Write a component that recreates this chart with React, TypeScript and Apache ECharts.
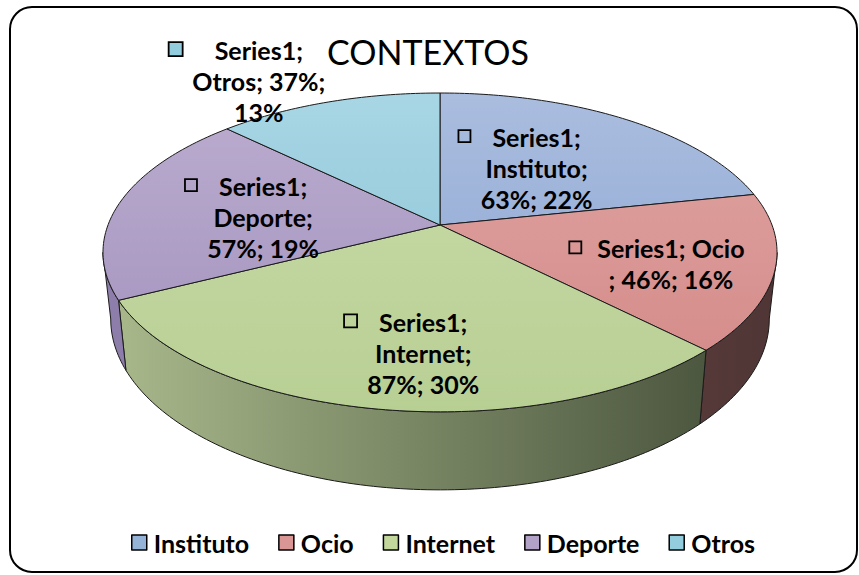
import React, { useEffect, useRef } from "react";
import * as echarts from "echarts";

// ---- data ----
const categories = ["Instituto", "Ocio", "Internet", "Deporte", "Otros"];
const values = [63, 46, 87, 57, 37];
const shares = [22, 16, 30, 19, 13];
const seriesName = "Series1";
const titleText = "CONTEXTOS";

// ---- styles ----
const legendColors = ["#95b3d7", "#d99694", "#c3d69b", "#b3a2c7", "#93cddd"];
const faceLight = ["#aabddf", "#dfa5a3", "#cadca9", "#bbaccf", "#a8d6e4"];
const faceDark = ["#8aa3d0", "#d38886", "#b8cf94", "#a191bd", "#86c0d4"];
const sideLight = ["#7f8fb0", "#8a5d5c", "#aaba8c", "#8e7eab", "#6f9aa8"];
const sideDark = ["#3f4a63", "#4f3535", "#414b36", "#5d5076", "#3d5a63"];
const labelWrap = ["a", "b", "a", "a", "c"];
const labelPlace = [
  [0.5, 38.4],
  [0.709, 109.9],
  [0.725, 183.5],
  [0.54, 275.5],
  [1.284, 329.6],
];
const labelKeyFill = ["none", "none", "none", "none", "#93cddd"];
const labelKeyGap = [22, 16, 22, 22, 32];
const labelKeySize = [12, 12, 13, 12, 14];

// projection of the tilted disc
const CX = 440;
const CY = 225;
const A = 332;
const B = 154.7;
const K = 0.172;
const H = 64.6;
const SXB = 0.977;
const FONT = "Lato";

const total = values.reduce((s, v) => s + v, 0);
const cum: number[] = [0];
values.forEach((v, i) => cum.push(cum[i] + v));

const rad = (d: number) => (d * Math.PI) / 180;

function proj(thetaDeg: number, r: number, bottom: boolean): number[] {
  const t = rad(thetaDeg);
  const u = r * Math.sin(t);
  const v = r * Math.cos(t);
  const d = 1 + K * v;
  const x = CX + (bottom ? SXB : 1) * (A * u) / d;
  const y = CY - (B * v) / d + (bottom ? H / d : 0);
  return [x, y];
}

function arcPts(a: number, b: number, r: number, bottom: boolean): number[][] {
  const pts: number[][] = [];
  const n = Math.max(2, Math.ceil(Math.abs(b - a) / 1));
  for (let i = 0; i <= n; i++) pts.push(proj(a + ((b - a) * i) / n, r, bottom));
  return pts;
}

const visR = (Math.acos(-K) * 180) / Math.PI;
const visL = 360 - visR;

function labelText(i: number): string {
  const name = categories[i];
  const v = values[i];
  const s = shares[i];
  const w = labelWrap[i];
  if (w === "b") return `${seriesName}; ${name}\n; ${v}%; ${s}%`;
  if (w === "c") return `${seriesName};\n${name}; ${v}%;\n${s}%`;
  return `${seriesName};\n${name};\n${v}%; ${s}%`;
}

let measureCtx: CanvasRenderingContext2D | null = null;
function measure(text: string, font: string): number {
  if (!measureCtx) measureCtx = document.createElement("canvas").getContext("2d");
  if (!measureCtx) return text.length * 12;
  measureCtx.font = font;
  return measureCtx.measureText(text).width;
}

export default function App() {
  const ref = useRef<HTMLDivElement>(null);
  useEffect(() => {
    if (!ref.current) return;
    const chart = echarts.init(ref.current, undefined, { renderer: "svg" });

    const faceSeries = {
      type: "custom",
      coordinateSystem: "none",
      silent: true,
      data: values,
      renderItem: (params: any) => {
        const i = params.dataIndex;
        const a = (cum[i] / total) * 360;
        const b = (cum[i + 1] / total) * 360;
        const children: any[] = [];
        const s = Math.max(a, visR);
        const e = Math.min(b, visL);
        if (e > s) {
          const pts = arcPts(s, e, 1, false).concat(arcPts(e, s, 1, true));
          children.push({
            type: "polygon",
            z2: 1,
            shape: { points: pts },
            style: {
              fill: new echarts.graphic.LinearGradient(
                103, 0, 778, 0,
                [
                  { offset: 0, color: sideLight[i] },
                  { offset: 1, color: sideDark[i] },
                ],
                true
              ),
              stroke: "#1a1a1a",
              lineWidth: 1,
            },
          });
        }
        const top = [[CX, CY]].concat(arcPts(a, b, 1, false));
        children.push({
          type: "polygon",
          z2: 2,
          shape: { points: top },
          style: {
            fill: new echarts.graphic.LinearGradient(
              0, 93, 0, 412,
              [
                { offset: 0, color: faceLight[i] },
                { offset: 1, color: faceDark[i] },
              ],
              true
            ),
            stroke: "#1a1a1a",
            lineWidth: 1,
          },
        });
        return { type: "group", children };
      },
    };

    const labelFontSize = 25;
    const labelFont = `bold ${labelFontSize}px ${FONT}`;
    const lineH = 31;
    const labelSeries = {
      type: "custom",
      coordinateSystem: "none",
      silent: true,
      z: 5,
      data: values,
      renderItem: (params: any) => {
        const i = params.dataIndex;
        const [r, th] = labelPlace[i];
        const [ax, ay] = proj(th, r, false);
        const text = labelText(i);
        const lines = text.split("\n");
        const firstY = ay - ((lines.length - 1) * lineH) / 2;
        const w0 = measure(lines[0], labelFont);
        const sq = labelKeySize[i];
        const gap = labelKeyGap[i];
        const sqX = ax - w0 / 2 - gap - sq;
        return {
          type: "group",
          children: [
            {
              type: "text",
              x: ax,
              y: ay,
              style: {
                text,
                fill: "#000",
                fontFamily: FONT,
                fontWeight: "bold",
                fontSize: labelFontSize,
                lineHeight: lineH,
                align: "center",
                verticalAlign: "middle",
              },
            },
            {
              type: "rect",
              shape: { x: sqX, y: firstY - sq / 2 - 1, width: sq, height: sq },
              style: { fill: labelKeyFill[i], stroke: "#000", lineWidth: 1.8 },
            },
          ],
        };
      },
    };

    const legendPie = {
      type: "pie",
      silent: true,
      center: [-200, -200],
      radius: [0, 1],
      label: { show: false },
      labelLine: { show: false },
      data: categories.map((c, i) => ({
        name: c,
        value: values[i],
        itemStyle: { color: legendColors[i] },
      })),
    };

    chart.setOption({
      animation: false,
      backgroundColor: "#ffffff",
      legend: {
        data: categories,
        left: 126,
        top: 525,
        icon: "rect",
        itemWidth: 15,
        itemHeight: 15,
        itemGap: 29,
        selectedMode: false,
        itemStyle: { borderColor: "#000", borderWidth: 1.5 },
        textStyle: {
          fontFamily: FONT,
          fontWeight: "bold",
          fontSize: 25,
          color: "#000",
          padding: [0, 0, 0, 2],
        },
      },
      graphic: [
        {
          type: "rect",
          shape: { x: 10, y: 7, width: 847, height: 565, r: 22 },
          style: { fill: "none", stroke: "#000", lineWidth: 2 },
          silent: true,
        },
        {
          type: "text",
          x: 428,
          y: 51,
          style: {
            text: titleText,
            fill: "#000",
            fontFamily: FONT,
            fontSize: 34,
            align: "center",
            verticalAlign: "middle",
          },
          silent: true,
        },
      ],
      series: [legendPie, faceSeries, labelSeries],
    });
    return () => chart.dispose();
  }, []);
  return (
    <div
      ref={ref}
      style={{ position: "fixed", left: 0, top: 0, width: 859, height: 575 }}
    />
  );
}
